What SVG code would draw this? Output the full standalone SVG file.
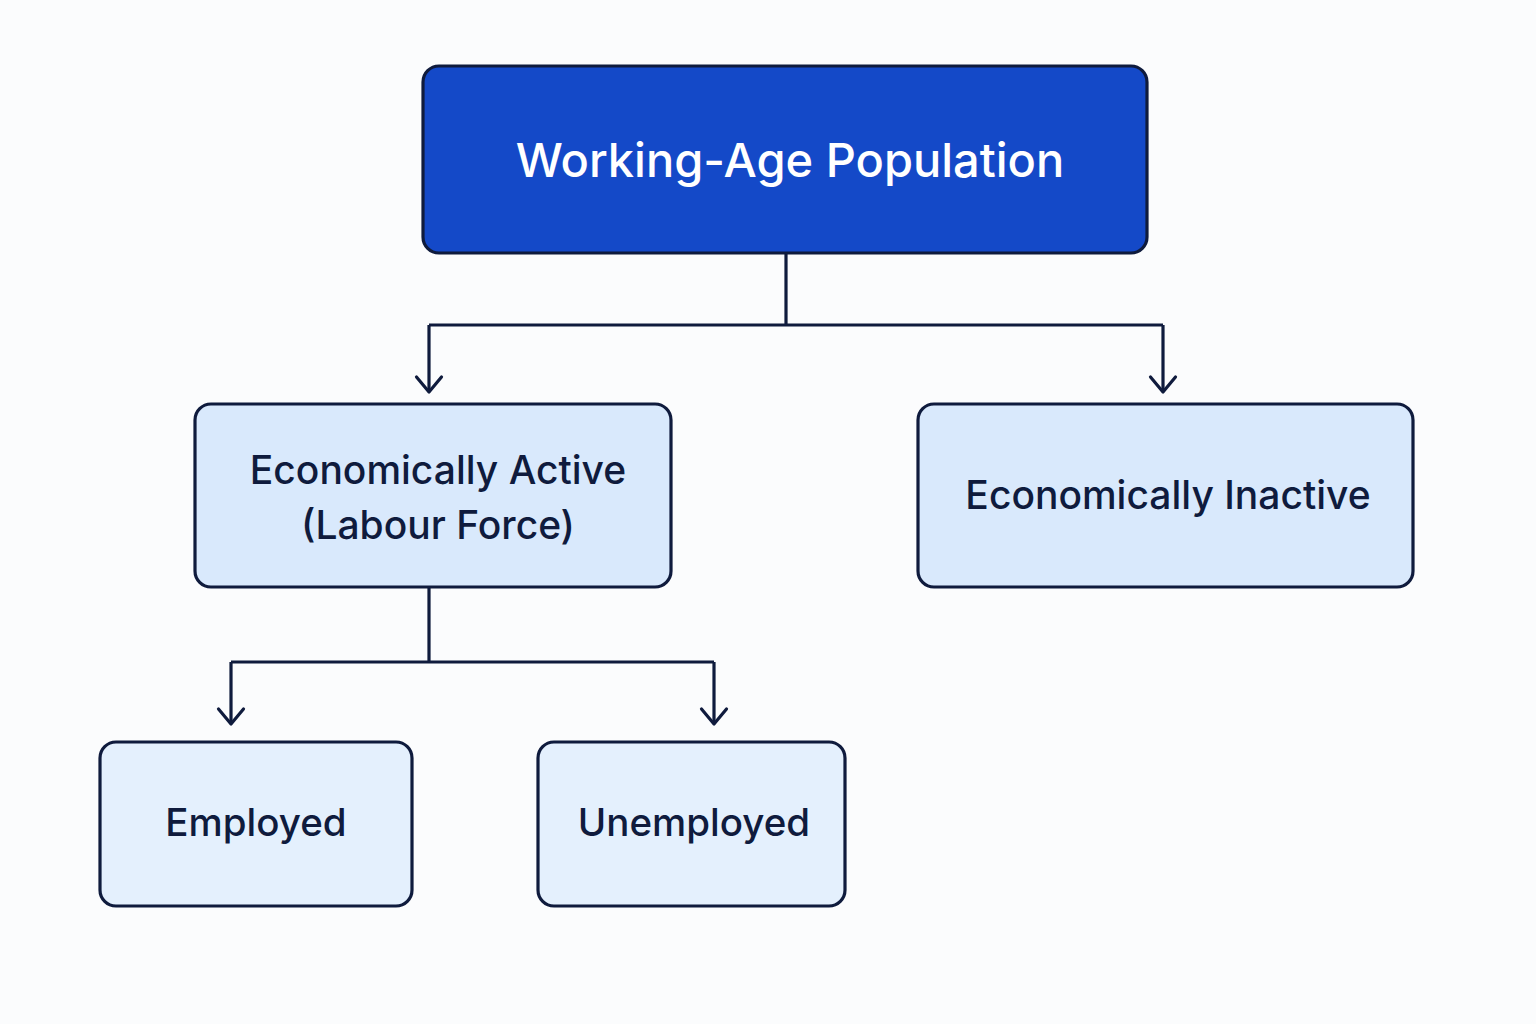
<svg xmlns="http://www.w3.org/2000/svg" width="1536" height="1024" viewBox="0 0 1536 1024">
<style>
.box{stroke:#0f1b3d;stroke-width:3.2}
.sub{fill:#d9e9fc}
.leaf{fill:#e4f0fd}
.lbl{font-family:Inter,"Liberation Sans",sans-serif;font-weight:500;fill:#0f1b3d;text-anchor:middle}
.conn{fill:none;stroke:#0f1b3d;stroke-width:3.2}
</style>
<defs>
<marker id="arr" viewBox="0 0 30 30" refX="18" refY="15" markerWidth="30" markerHeight="30" markerUnits="userSpaceOnUse" orient="auto">
<polyline points="3,2.5 18,15 3,27.5" fill="none" stroke="#0f1b3d" stroke-width="3.2" stroke-linecap="round" stroke-linejoin="round"/>
</marker>
</defs>
<rect width="1536" height="1024" fill="#fbfcfd"/>
<g id="connectors">
<path class="conn" d="M786 253 V325 M429 325 H1163"/>
<path class="conn" d="M429 325 V392" marker-end="url(#arr)"/>
<path class="conn" d="M1163 325 V392" marker-end="url(#arr)"/>
<path class="conn" d="M429 587 V662 M231 662 H714"/>
<path class="conn" d="M231 662 V724" marker-end="url(#arr)"/>
<path class="conn" d="M714 662 V724" marker-end="url(#arr)"/>
</g>
<g id="working-age">
<rect class="box" x="423" y="66" width="724" height="187" rx="16" fill="#1449c8"/>
<text class="lbl" x="790" y="177" font-size="47" style="fill:#ffffff">Working-Age Population</text>
</g>
<g id="active">
<rect class="box sub" x="195" y="404" width="476" height="183" rx="16"/>
<text class="lbl" x="438" y="484" font-size="39">Economically Active</text>
<text class="lbl" x="438" y="539" font-size="39">(Labour Force)</text>
</g>
<g id="inactive">
<rect class="box sub" x="918" y="404" width="495" height="183" rx="16"/>
<text class="lbl" x="1168" y="509" font-size="39">Economically Inactive</text>
</g>
<g id="employed">
<rect class="box leaf" x="100" y="742" width="312" height="164" rx="16"/>
<text class="lbl" x="256" y="836" font-size="38.5">Employed</text>
</g>
<g id="unemployed">
<rect class="box leaf" x="538" y="742" width="307" height="164" rx="16"/>
<text class="lbl" x="694" y="836" font-size="38.5">Unemployed</text>
</g>
</svg>
